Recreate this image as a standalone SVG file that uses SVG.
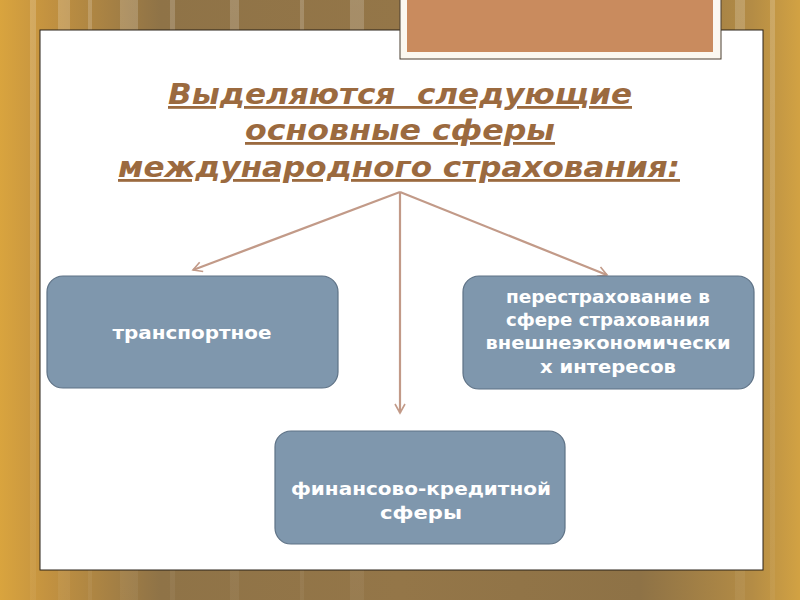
<svg xmlns="http://www.w3.org/2000/svg" width="800" height="600" viewBox="0 0 800 600">
<defs>
<linearGradient id="bg" x1="0" y1="0" x2="1" y2="0">
<stop offset="0" stop-color="#D9A43E"/>
<stop offset="0.06" stop-color="#C39240"/>
<stop offset="0.2" stop-color="#8F7347"/>
<stop offset="0.5" stop-color="#947648"/>
<stop offset="0.8" stop-color="#8E7246"/>
<stop offset="0.94" stop-color="#B48C45"/>
<stop offset="1" stop-color="#D2A243"/>
</linearGradient>
<linearGradient id="stripes" x1="0" y1="0" x2="0" y2="1">
<stop offset="0" stop-color="#fff" stop-opacity="0.18"/>
<stop offset="1" stop-color="#fff" stop-opacity="0.05"/>
</linearGradient>
<marker id="ah" viewBox="0 0 12 12" refX="10" refY="6" markerWidth="12" markerHeight="12" markerUnits="userSpaceOnUse" orient="auto">
<path d="M1,1 L10,6 L1,11" fill="none" stroke="#C29A88" stroke-width="1.6"/>
</marker>
</defs>
<style>
.title{font-family:"DejaVu Sans",sans-serif;font-weight:bold;font-style:italic;font-size:28px;fill:#9B6A3F;text-anchor:middle;text-decoration:underline;white-space:pre}
.box{fill:#7F97AD;stroke:#5E7286;stroke-width:1.2}
.lbl{font-family:"DejaVu Sans",sans-serif;font-weight:bold;font-size:17px;fill:#FFFFFF;text-anchor:middle}
.conn{stroke:#C29A88;stroke-width:2.2;fill:none}
</style>
<rect x="0" y="0" width="800" height="600" fill="url(#bg)"/>
<g fill="url(#stripes)">
<rect x="30" y="0" width="6" height="600"/>
<rect x="58" y="0" width="12" height="600"/>
<rect x="88" y="0" width="4" height="600"/>
<rect x="120" y="0" width="18" height="600"/>
<rect x="170" y="0" width="5" height="600"/>
<rect x="230" y="0" width="9" height="600"/>
<rect x="300" y="0" width="4" height="600"/>
<rect x="350" y="0" width="14" height="600"/>
<rect x="735" y="0" width="10" height="600"/>
<rect x="770" y="0" width="5" height="600"/>
</g>
<rect x="40" y="30" width="723" height="540" fill="#FFFFFF" stroke="#2A2218" stroke-width="1"/>
<g id="frame">
<rect x="400" y="-2" width="321" height="61" fill="#FBF8F0" stroke="#4A3E30" stroke-width="1"/>
<rect x="407" y="-2" width="306" height="54" fill="#C98B5E"/>
</g>
<g id="title">
<text class="title" x="400" y="104" textLength="464" lengthAdjust="spacingAndGlyphs" xml:space="preserve">Выделяются  следующие</text>
<text class="title" x="400" y="140" textLength="310" lengthAdjust="spacingAndGlyphs">основные сферы</text>
<text class="title" x="399" y="177" textLength="562" lengthAdjust="spacingAndGlyphs">международного страхования:</text>
</g>
<g id="connectors">
<line class="conn" x1="400" y1="192" x2="193" y2="270" marker-end="url(#ah)"/>
<line class="conn" x1="400" y1="192" x2="400" y2="413" marker-end="url(#ah)"/>
<line class="conn" x1="400" y1="192" x2="607" y2="275" marker-end="url(#ah)"/>
</g>
<g id="transport">
<rect class="box" x="47" y="276" width="291" height="112" rx="16"/>
<text class="lbl" x="192" y="339" font-size="18" textLength="159" lengthAdjust="spacingAndGlyphs">транспортное</text>
</g>
<g id="reinsurance">
<rect class="box" x="463" y="276" width="291" height="113" rx="16"/>
<text class="lbl" x="608" y="303" textLength="204" lengthAdjust="spacingAndGlyphs">перестрахование в</text>
<text class="lbl" x="608" y="326" textLength="204" lengthAdjust="spacingAndGlyphs">сфере страхования</text>
<text class="lbl" x="608" y="349" textLength="245" lengthAdjust="spacingAndGlyphs">внешнеэкономически</text>
<text class="lbl" x="608" y="373" textLength="136" lengthAdjust="spacingAndGlyphs">х интересов</text>
</g>
<g id="finance">
<rect class="box" x="275" y="431" width="290" height="113" rx="16"/>
<text class="lbl" x="421" y="495" textLength="260" lengthAdjust="spacingAndGlyphs">финансово-кредитной</text>
<text class="lbl" x="421" y="519" textLength="82" lengthAdjust="spacingAndGlyphs">сферы</text>
</g>
</svg>
